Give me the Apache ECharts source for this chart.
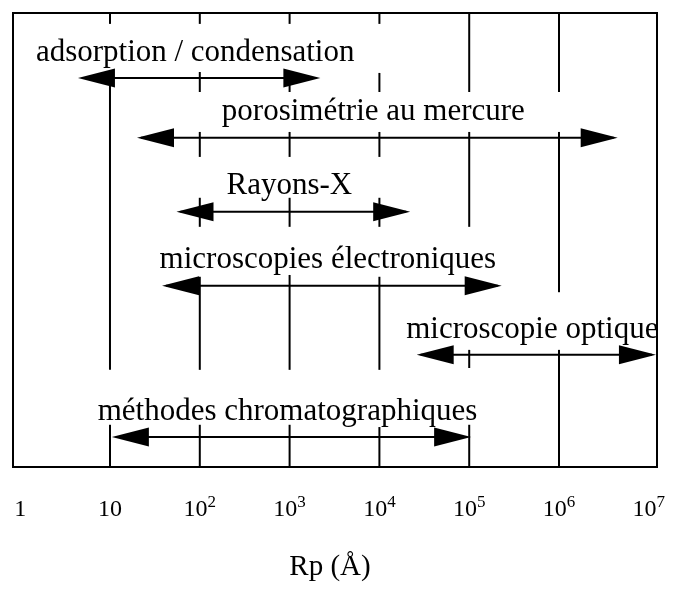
<!DOCTYPE html>
<html>
<head>
<meta charset="utf-8">
<script src="https://cdn.jsdelivr.net/npm/echarts@6/dist/echarts.min.js"></script>
<style>
  html, body { margin: 0; padding: 0; background: #fff; }
  #main { width: 684px; height: 593px; }
</style>
</head>
<body>
<div id="main"></div>
<script>
// methods and the pore radius range (Å) each one covers
const methodNames = [
  'adsorption / condensation',
  'porosimétrie au mercure',
  'Rayons-X',
  'microscopies électroniques',
  'microscopie optique',
  'méthodes chromatographiques'
];
const rangeFrom = [4.4, 20, 55, 38, 2.6e4, 10.5];
const rangeTo = [2200, 4.5e6, 2.2e4, 2.3e5, 1.2e7, 1.05e5];
// vertical level of each row (0 = bottom of the box, 100 = top)
const rowLevel = [85.7, 72.5, 56.2, 39.9, 24.7, 6.6];

// tick labels on the Rp axis
const tickValues = [1, 10, 100, 1e3, 1e4, 1e5, 1e6, 1e7];

// decade guide lines: [Rp, from level, to level]
const guideSegments = [
  [10, 97.6, 100], [10, 21.4, 85.2], [10, 0, 9.3],
  [100, 97.6, 100], [100, 82.6, 87], [100, 68.3, 73.8], [100, 52.9, 59.3], [100, 21.4, 41.9], [100, 0, 9.3],
  [1e3, 97.6, 100], [1e3, 82.6, 85.7], [1e3, 68.3, 73.8], [1e3, 52.9, 59.3], [1e3, 21.4, 42.3], [1e3, 0, 9.3],
  [1e4, 97.6, 100], [1e4, 82.6, 86.8], [1e4, 68.3, 73.8], [1e4, 52.9, 59.3], [1e4, 21.4, 41.9], [1e4, 0, 8.8],
  [1e5, 82.6, 100], [1e5, 52.9, 73.8], [1e5, 21.8, 25.8], [1e5, 0, 9.3],
  [1e6, 82.6, 100], [1e6, 38.5, 73.8], [1e6, 0, 25.8]
];

const serif = '"Liberation Serif", "Times New Roman", serif';
const chart = echarts.init(document.getElementById('main'), null, { renderer: 'canvas' });

const arrowData = methodNames.map(function (name, i) {
  return [rangeFrom[i], rangeTo[i], rowLevel[i], name];
});

function renderGuide(params, api) {
  const p0 = api.coord([api.value(0), api.value(1)]);
  const p1 = api.coord([api.value(0), api.value(2)]);
  return {
    type: 'line',
    shape: { x1: p0[0], y1: p0[1], x2: p1[0], y2: p1[1] },
    style: { stroke: '#000', lineWidth: 2 }
  };
}

function renderArrow(params, api) {
  const a = api.coord([api.value(0), api.value(2)]);
  const b = api.coord([api.value(1), api.value(2)]);
  const len = 37, half = 9.5;
  const y = a[1];
  return {
    type: 'group',
    children: [
      {
        type: 'line',
        shape: { x1: a[0] + 4, y1: y, x2: b[0] - 4, y2: y },
        style: { stroke: '#000', lineWidth: 2 }
      },
      {
        type: 'polygon',
        shape: { points: [[a[0], y], [a[0] + len, y - half], [a[0] + len, y + half]] },
        style: { fill: '#000' }
      },
      {
        type: 'polygon',
        shape: { points: [[b[0], y], [b[0] - len, y - half], [b[0] - len, y + half]] },
        style: { fill: '#000' }
      },
      {
        type: 'text',
        x: (a[0] + b[0]) / 2 - 4,
        y: y - 10,
        style: {
          text: methodNames[params.dataIndex],
          fill: '#000',
          font: '31px ' + serif,
          align: 'center',
          verticalAlign: 'bottom'
        }
      }
    ]
  };
}

const option = {
  animation: false,
  grid: {
    show: true,
    left: 13,
    right: 27,
    top: 13,
    bottom: 126,
    borderColor: '#000',
    borderWidth: 2,
    containLabel: false
  },
  xAxis: {
    type: 'log',
    logBase: 10,
    min: 0.832,
    max: 1.233e7,
    name: 'Rp (Å)',
    nameLocation: 'middle',
    nameGap: 86,
    nameTextStyle: { fontFamily: serif, fontSize: 29, color: '#000', padding: [0, 10, 0, 0] },
    axisLine: { show: false },
    axisTick: { show: false },
    splitLine: { show: false },
    axisLabel: {
      customValues: tickValues,
      margin: 27,
      color: '#000',
      formatter: function (v) {
        const e = Math.round(Math.log10(v));
        if (e === 0) return '{b|1}';
        if (e === 1) return '{b|10}';
        return '{b|10}{s|' + e + '}';
      },
      rich: {
        b: { fontFamily: serif, fontSize: 24, lineHeight: 32, color: '#000' },
        s: { fontFamily: serif, fontSize: 17, lineHeight: 17, verticalAlign: 'top', color: '#000' }
      }
    }
  },
  yAxis: {
    type: 'value',
    min: 0,
    max: 100,
    show: false
  },
  series: [
    {
      type: 'custom',
      renderItem: renderGuide,
      encode: { x: 0, y: [1, 2] },
      data: guideSegments,
      silent: true
    },
    {
      type: 'custom',
      renderItem: renderArrow,
      encode: { x: [0, 1], y: 2 },
      data: arrowData,
      silent: true
    }
  ]
};

chart.setOption(option);
</script>
</body>
</html>
